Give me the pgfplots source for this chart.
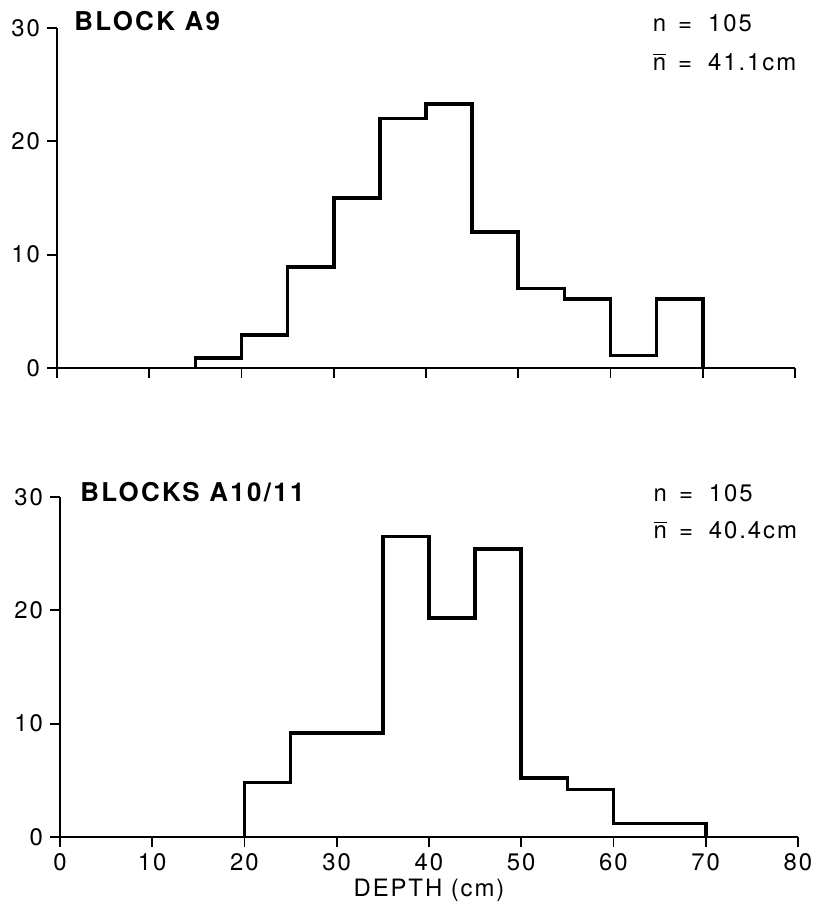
\documentclass[border=0pt]{standalone}
\usepackage{fontspec}
\setmainfont{TeX Gyre Heros}
\usepackage{pgfplots}
\pgfplotsset{compat=1.18}

\newcommand\lblfont{\fontsize{12}{14}\selectfont\addfontfeature{LetterSpace=8}}
\newcommand\ttlfont{\fontsize{13}{15}\selectfont\bfseries\addfontfeature{LetterSpace=9}}

\pgfplotsset{histax/.style={
  scale only axis, width=369bp, height=170bp,
  xmin=0, xmax=80, ymin=0, ymax=30,
  axis x line=bottom, axis y line=left,
  axis line style={-, line width=0.9bp},
  xtick={0,10,...,80}, ytick={0,10,20,30},
  tick align=outside, major tick length=5bp,
  tick style={black, line width=0.9bp},
  /pgf/number format/assume math mode=true,
  ticklabel style={font=\lblfont},
  clip=false,
}}

\begin{document}
\begin{tikzpicture}
% lower panel
\begin{axis}[histax, at={(0,0)},
  xlabel={DEPTH (cm)},
  xlabel style={font=\lblfont, yshift=3bp}]
\addplot[const plot mark left, line width=1.8bp, black] coordinates {
 (20,0) (20,4.8) (25,9.2) (30,9.2) (35,26.5) (40,19.3) (45,25.4)
 (50,5.2) (55,4.2) (60,1.2) (65,1.2) (70,0)};
\node[anchor=west, font=\ttlfont] at (rel axis cs:0.018,1.015) {BLOCKS A10/11};
\node[anchor=west, font=\lblfont] at (rel axis cs:0.795,1.012) {n\hspace{6bp}=\hspace{8bp}105};
\node[anchor=west, font=\lblfont] at (rel axis cs:0.795,0.903) {$\overline{\mbox{n}}$\hspace{6bp}=\hspace{8bp}40.4cm};
\end{axis}
% upper panel
\begin{axis}[histax, at={(-1.5bp,234.5bp)}, xticklabels={}]
\addplot[const plot mark left, line width=1.8bp, black] coordinates {
 (15,0) (15,0.9) (20,2.9) (25,8.9) (30,15) (35,22) (40,23.3) (45,12)
 (50,7) (55,6.1) (60,1.1) (65,6.1) (70,0)};
\node[anchor=west, font=\ttlfont] at (rel axis cs:0.014,1.02) {BLOCK A9};
\node[anchor=west, font=\lblfont] at (rel axis cs:0.798,1.015) {n\hspace{6bp}=\hspace{8bp}105};
\node[anchor=west, font=\lblfont] at (rel axis cs:0.798,0.90) {$\overline{\mbox{n}}$\hspace{6bp}=\hspace{8bp}41.1cm};
\end{axis}
\path (-30bp,-37bp) rectangle (376bp,418.5bp);
\end{tikzpicture}
\end{document}
